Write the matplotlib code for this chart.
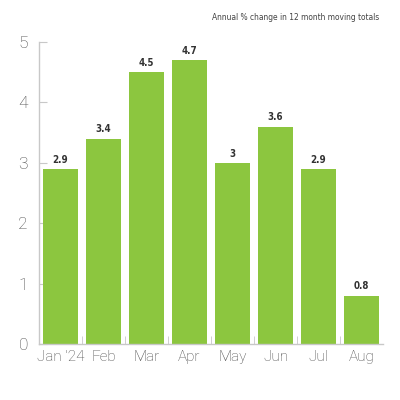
import matplotlib
matplotlib.use("Agg")
import matplotlib.pyplot as plt
import numpy as np

months = ["Jan '24", "Feb", "Mar", "Apr", "May", "Jun", "Jul", "Aug"]
values = [2.9, 3.4, 4.5, 4.7, 3.0, 3.6, 2.9, 0.8]
value_labels = ["2.9", "3.4", "4.5", "4.7", "3", "3.6", "2.9", "0.8"]
yticks = [0, 1, 2, 3, 4, 5]
title = "Annual % change in 12 month moving totals"

bar_color = "#8cc63f"
axis_color = "#c8c8c8"
tick_label_color = "#4a4a4a"

fig = plt.figure(figsize=(4, 4), dpi=100)
ax = fig.add_axes([0.0975, 0.14, 0.86, 0.755])

x = np.arange(len(months))
ax.bar(x, values, width=0.81, color=bar_color, zorder=2)

for xi, v, lab in zip(x, values, value_labels):
    ax.text(xi, v + 0.07, lab, ha="center", va="bottom", fontsize=7,
            color="#333333", family="DejaVu Sans", fontstretch="condensed",
            fontweight="semibold")

ax.set_xlim(-0.5, len(months) - 0.5)
ax.set_ylim(0, 5)
ax.set_yticks(yticks)
ax.set_yticklabels([str(t) for t in yticks])
ax.set_xticks(x)
ax.set_xticklabels(months)
ax.set_xticks(np.arange(len(months) - 1) + 0.5, minor=True)

for s in ["top", "right"]:
    ax.spines[s].set_visible(False)
for s in ["left", "bottom"]:
    ax.spines[s].set_color(axis_color)
    ax.spines[s].set_linewidth(1.0)

ax.tick_params(axis="y", direction="in", length=6, color=axis_color,
               labelcolor=tick_label_color, labelsize=12.5, pad=8)
ax.tick_params(axis="x", which="major", length=0, labelcolor=tick_label_color,
               labelsize=11, pad=4)
ax.tick_params(axis="x", which="minor", direction="in", length=6, color=axis_color)
for lab in ax.get_xticklabels() + ax.get_yticklabels():
    lab.set_family(["Roboto", "DejaVu Sans"])
    lab.set_fontweight("light")

fig.text(0.948, 0.955, title, ha="right", va="center", fontsize=6,
         color="#444444", family="DejaVu Sans", fontstretch="condensed")

fig.savefig("out.png", dpi=100)
